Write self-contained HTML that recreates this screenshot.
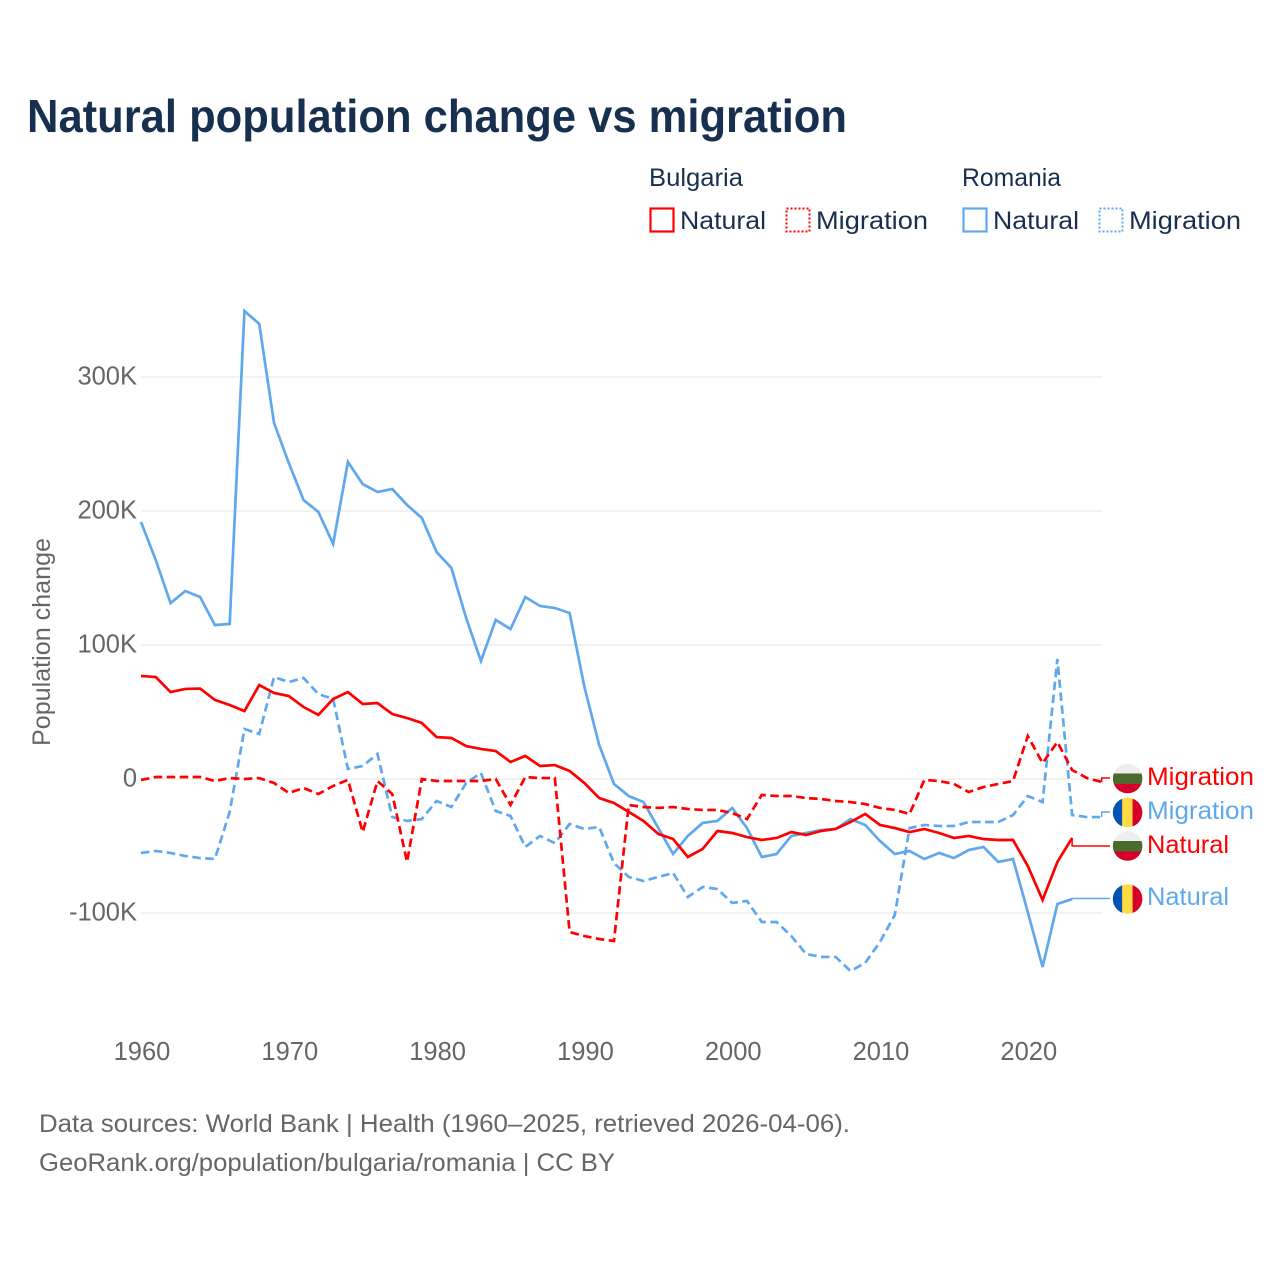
<!DOCTYPE html>
<html lang="en">
<head>
<meta charset="utf-8">
<title>Natural population change vs migration</title>
<style>
  html, body { margin: 0; padding: 0; background: #fff; }
  svg { display: block; }
  text { font-family: "Liberation Sans", sans-serif; }
</style>
</head>
<body>
<svg id="chart" xmlns="http://www.w3.org/2000/svg" width="1280" height="1280" viewBox="0 0 1280 1280">
  <defs>
    <clipPath id="flag-clip"><circle cx="0" cy="0" r="14.8"></circle></clipPath>
  </defs>
  <rect width="1280" height="1280" fill="#fff"></rect>

  <text x="27" y="132" font-size="46" font-weight="700" fill="#18304f" textLength="820" lengthAdjust="spacingAndGlyphs">Natural population change vs migration</text>

  <g font-size="25" fill="#18304f">
    <text x="649" y="186" textLength="94" lengthAdjust="spacingAndGlyphs">Bulgaria</text>
    <text x="962" y="186" textLength="99" lengthAdjust="spacingAndGlyphs">Romania</text>

    <rect x="650.5" y="208.5" width="23" height="23" fill="none" stroke="#ff0000" stroke-width="2.2"></rect>
    <text x="680" y="229" textLength="86" lengthAdjust="spacingAndGlyphs">Natural</text>

    <rect x="786.5" y="208.5" width="23" height="23" fill="none" stroke="#ff0000" stroke-width="2" stroke-dasharray="2,2"></rect>
    <text x="816" y="229" textLength="112" lengthAdjust="spacingAndGlyphs">Migration</text>

    <rect x="963.5" y="208.5" width="23" height="23" fill="none" stroke="#5fa8ee" stroke-width="2.2"></rect>
    <text x="993" y="229" textLength="86" lengthAdjust="spacingAndGlyphs">Natural</text>

    <rect x="1099.5" y="208.5" width="23" height="23" fill="none" stroke="#5fa8ee" stroke-width="2" stroke-dasharray="2,2"></rect>
    <text x="1129" y="229" textLength="112" lengthAdjust="spacingAndGlyphs">Migration</text>
  </g>

  <text transform="translate(50,642) rotate(-90)" text-anchor="middle" font-size="25" fill="#666" textLength="208" lengthAdjust="spacingAndGlyphs">Population change</text>

  <g id="grid"></g>
  <g id="y-ticks"></g>
  <g id="x-ticks"></g>
  <g id="connectors"></g>
  <g id="lines"></g>

  <g font-size="25">
    <g transform="translate(1127.6,778.5)">
      <g clip-path="url(#flag-clip)">
        <rect x="-15" y="-15" width="30" height="10" fill="#eeeeee"></rect>
        <rect x="-15" y="-5" width="30" height="10.5" fill="#4b6b2e"></rect>
        <rect x="-15" y="5.5" width="30" height="10" fill="#d6002b"></rect>
      </g>
    </g>
    <text x="1147" y="785" fill="#ff0000" textLength="107" lengthAdjust="spacingAndGlyphs">Migration</text>

    <g transform="translate(1127.6,812.5)">
      <g clip-path="url(#flag-clip)">
        <rect x="-15" y="-15" width="10" height="30" fill="#0052b4"></rect>
        <rect x="-5.5" y="-15" width="11" height="30" fill="#ffda44"></rect>
        <rect x="5" y="-15" width="10" height="30" fill="#d6002b"></rect>
      </g>
    </g>
    <text x="1147" y="819" fill="#5fa8ee" textLength="107" lengthAdjust="spacingAndGlyphs">Migration</text>

    <g transform="translate(1127.6,846)">
      <g clip-path="url(#flag-clip)">
        <rect x="-15" y="-15" width="30" height="10" fill="#eeeeee"></rect>
        <rect x="-15" y="-5" width="30" height="10.5" fill="#4b6b2e"></rect>
        <rect x="-15" y="5.5" width="30" height="10" fill="#d6002b"></rect>
      </g>
    </g>
    <text x="1147" y="853" fill="#ff0000" textLength="82" lengthAdjust="spacingAndGlyphs">Natural</text>

    <g transform="translate(1127.6,899)">
      <g clip-path="url(#flag-clip)">
        <rect x="-15" y="-15" width="10" height="30" fill="#0052b4"></rect>
        <rect x="-5.5" y="-15" width="11" height="30" fill="#ffda44"></rect>
        <rect x="5" y="-15" width="10" height="30" fill="#d6002b"></rect>
      </g>
    </g>
    <text x="1147" y="905" fill="#5fa8ee" textLength="82" lengthAdjust="spacingAndGlyphs">Natural</text>
  </g>

  <g font-size="25" fill="#666">
    <text x="39" y="1132" textLength="811" lengthAdjust="spacingAndGlyphs">Data sources: World Bank | Health (1960–2025, retrieved 2026-04-06).</text>
    <text x="39" y="1171" textLength="576" lengthAdjust="spacingAndGlyphs">GeoRank.org/population/bulgaria/romania | CC BY</text>
  </g>
</svg>

<script>
// Chart data: values in thousands of people, first year = 1960
const startYear = 1960;
const xTickYears = [1960, 1970, 1980, 1990, 2000, 2010, 2020];
const yTickValues = [300, 200, 100, 0, -100];

const bulgariaNatural = [76.9, 76.1, 64.9, 67.2, 67.5, 59.0, 55.2, 50.7, 70.1, 64.2, 61.9, 53.7, 47.8, 59.7, 64.9, 56.0, 56.7, 48.5, 45.5, 41.8, 31.3, 30.6, 24.6, 22.4, 20.9, 12.7, 17.2, 9.7, 10.4, 6.0, -3.0, -14.2, -17.9, -24.6, -31.3, -41.0, -44.8, -58.2, -52.2, -38.8, -40.3, -43.3, -45.5, -44.0, -39.6, -41.8, -38.8, -37.3, -32.1, -26.1, -34.3, -36.6, -39.6, -37.3, -40.3, -44.0, -42.5, -44.8, -45.5, -45.5, -64.9, -90.3, -61.9, -44.0];

const romaniaNatural = [191.8, 163.4, 131.3, 140.3, 135.8, 114.9, 115.7, 349.3, 339.6, 265.7, 235.8, 208.2, 199.3, 175.4, 236.6, 220.1, 214.2, 216.4, 204.5, 194.8, 169.4, 157.5, 120.1, 88.1, 118.7, 111.9, 135.8, 129.1, 127.6, 123.9, 68.7, 25.4, -3.7, -12.7, -17.2, -36.6, -56.0, -42.5, -32.8, -31.3, -21.6, -36.6, -58.2, -56.0, -42.5, -40.3, -38.1, -37.3, -29.9, -34.3, -46.3, -56.0, -53.7, -59.7, -55.2, -59.0, -53.0, -50.7, -61.9, -59.7, -99.3, -140.3, -93.3, -89.6];

const bulgariaMigration = [-0.7, 1.5, 1.5, 1.5, 1.5, -1.5, 0.7, 0, 0.7, -3.0, -10.4, -6.7, -11.2, -5.2, -0.7, -39.6, -1.5, -11.2, -61.9, 0, -1.5, -1.5, -1.5, -1.5, 0, -19.4, 1.5, 0.7, 0.7, -114.2, -117.2, -119.4, -120.9, -19.4, -20.9, -21.6, -20.9, -22.4, -23.1, -23.1, -25.4, -29.9, -11.9, -12.7, -12.7, -14.2, -14.9, -16.4, -17.2, -18.7, -21.6, -23.1, -26.1, -0.7, -1.5, -3.7, -9.7, -6.0, -3.7, -1.5, 32.1, 11.9, 27.6, 6.7, 0.7, -2.2];

const romaniaMigration = [-55.2, -53.7, -55.2, -57.5, -59.0, -59.7, -24.6, 37.3, 33.6, 76.1, 72.4, 75.4, 63.4, 59.7, 7.5, 9.7, 18.7, -28.4, -31.3, -29.9, -16.4, -20.9, -3.0, 4.5, -23.9, -27.6, -50.7, -42.5, -47.8, -33.6, -37.3, -35.8, -62.7, -73.1, -76.1, -73.1, -70.1, -88.1, -80.6, -82.1, -92.5, -91.0, -106.7, -106.7, -117.2, -130.6, -132.8, -132.8, -143.3, -137.3, -121.6, -101.5, -36.6, -34.3, -35.1, -35.1, -32.1, -32.1, -32.1, -26.9, -12.7, -17.2, 89.6, -26.9, -28.4, -28.4];

const NS = 'http://www.w3.org/2000/svg';
const RED = '#ff0000';
const BLUE = '#5fa8ee';
const PLOT_LEFT = 141;
const PLOT_RIGHT = 1102;
const LABEL_X = 1110;

function xScale(year) {
  return 141 + (year - 1960) * 14.78;
}
function yScale(value) {
  return 779 - value * 1.34;
}
function make(tag, attrs, parent) {
  const el = document.createElementNS(NS, tag);
  Object.keys(attrs).forEach(function (k) { el.setAttribute(k, attrs[k]); });
  parent.appendChild(el);
  return el;
}

const gridGroup = document.getElementById('grid');
const yTickGroup = document.getElementById('y-ticks');
yTickValues.forEach(function (v) {
  const line = make('line', { x1: PLOT_LEFT, x2: PLOT_RIGHT, y1: yScale(v), y2: yScale(v), stroke: '#ebebeb', 'stroke-width': 1.3 }, gridGroup);
  
  
  const label = make('text', { x: 137, y: yScale(v) + 7.5, 'text-anchor': 'end', 'font-size': 25.5, fill: '#666' }, yTickGroup);
  
  
  label.textContent = v === 0 ? '0' : v + 'K';
});

const xTickGroup = document.getElementById('x-ticks');
xTickYears.forEach(function (yr) {
  const label = make('text', { x: xScale(yr) + 1, y: 1060, 'text-anchor': 'middle', 'font-size': 25.5, fill: '#666' }, xTickGroup);
  
  
  label.textContent = yr;
});

function pointsFor(values) {
  return values.map(function (v, i) {
    return xScale(startYear + i).toFixed(2) + ',' + yScale(v).toFixed(2);
  }).join(' ');
}

function drawSeries(values, color, dashed, seriesName, labelY) {
  const lineGroup = document.getElementById('lines');
  const connGroup = document.getElementById('connectors');
  const lastX = xScale(startYear + values.length - 1);
  const lastY = yScale(values[values.length - 1]);

  const conn = make('polyline', {
    points: lastX + ',' + lastY + ' ' + lastX + ',' + labelY + ' ' + LABEL_X + ',' + labelY,
    fill: 'none', stroke: color, 'stroke-width': 1.5
  }, connGroup);
  
  

  const attrs = { points: pointsFor(values), fill: 'none', stroke: color, 'stroke-width': 2.7, 'stroke-linejoin': 'miter' };
  if (dashed) { attrs['stroke-dasharray'] = '8.5,4.5'; }
  const line = make('polyline', attrs, lineGroup);
  
  
}

drawSeries(romaniaNatural, BLUE, false, 'romania-natural', 898.5);
drawSeries(romaniaMigration, BLUE, true, 'romania-migration', 812);
drawSeries(bulgariaNatural, RED, false, 'bulgaria-natural', 846);
drawSeries(bulgariaMigration, RED, true, 'bulgaria-migration', 778);
</script>
</body>
</html>
